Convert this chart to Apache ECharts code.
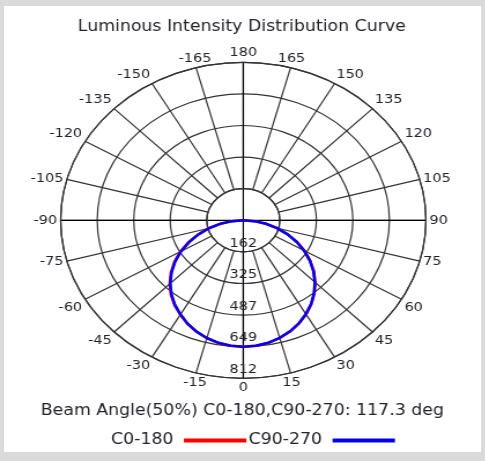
<!DOCTYPE html>
<html>
<head>
<meta charset="utf-8">
<script src="https://cdn.jsdelivr.net/npm/echarts@6/dist/echarts.min.js"></script>
<style>
html,body{margin:0;padding:0;background:#dadada;width:485px;height:461px;overflow:hidden;}
#panel{position:absolute;left:4px;top:6px;width:477px;height:446px;background:#ffffff;}
#chart{position:absolute;left:0;top:0;width:419.55px;height:461px;transform:scaleX(1.156);transform-origin:0 0;}
</style>
</head>
<body>
<div id="panel"></div>
<div id="chart"></div>
<script>
// ---- data (gamma angles in degrees, intensity in cd) ----
const gammaAngles = [-90,-85,-80,-75,-70,-65,-60,-55,-50,-45,-40,-35,-30,-25,-20,-15,-10,-5,0,5,10,15,20,25,30,35,40,45,50,55,60,65,70,75,80,85,90];
const c0_180 = [0,52,106,160,214,270,324,374,420,462,500,532,560,587,609,627,640,647,649,647,640,626,608,585,558,527,491,452,409,363,314,262,209,156,103,50,0];
const c90_270 = [0,50,104,158,212,266,320,370,416,459,497,530,558,586,608,626,639,647,649,647,639,625,607,584,556,525,489,450,407,361,312,261,208,155,102,49,0];
const radiusTickLabels = ['162','325','487','649','812'];
const angleTickLabels = ['0','15','30','45','60','75','90','105','120','135','150','165','180','-165','-150','-135','-120','-105','-90','-75','-60','-45','-30','-15',''];
const seriesNames = ['C0-180','C90-270'];
const titleText = 'Luminous Intensity Distribution Curve';
const beamText = 'Beam Angle(50%) C0-180,C90-270: 117.3 deg';
const radiusMax = 811.7;
const radiusStep = 162.34;

const S = 1.156;
const FONT = 'DejaVu Sans';
const TXT = '#222228';
const GRID = '#333';
const CX = 243.3 / S, CY = 220.3, R = 158;

function toPolar(vals){
  return vals.map((v,i)=>[v, (gammaAngles[i] + 360) % 360]);
}

const chart = echarts.init(document.getElementById('chart'), null, {renderer:'canvas'});
chart.setOption({
  backgroundColor: 'transparent',
  animation: false,
  title: [
    {text: titleText, left: 236 / S, textAlign: 'center', top: 15,
     textStyle:{fontFamily: FONT, fontSize: 15, fontWeight: 'normal', color: TXT}},
    {text: beamText, left: 236.5 / S, textAlign: 'center', top: 399,
     textStyle:{fontFamily: FONT, fontSize: 15, fontWeight: 'normal', color: TXT}}
  ],
  legend: {
    data: seriesNames, left: 91, top: 428, align: 'right', icon: 'rect',
    itemWidth: 54, itemHeight: 4, itemGap: 2,
    textStyle:{fontFamily: FONT, fontSize: 15, color: TXT, padding:[0,4,0,0]}
  },
  polar: [
    {center: [CX, CY], radius: [R/5, R]},
    {center: [CX, CY], radius: [0, R]}
  ],
  angleAxis: [
    {polarIndex: 0, type: 'value', min: 0, max: 360, interval: 15, startAngle: 270, clockwise: false,
     axisLine: {show: true, lineStyle: {color: GRID, width: 1.2}},
     axisTick: {show: false},
     splitLine: {show: true, lineStyle: {color: GRID, width: 1.2}},
     axisLabel: {show: true, margin: 3, fontFamily: FONT, fontSize: 12.5, color: TXT,
       formatter: (v) => angleTickLabels[Math.round(v / 15)]}
    },
    {polarIndex: 1, type: 'value', min: 0, max: 360, interval: 90, startAngle: 270, clockwise: false,
     axisLine: {show: false}, axisTick: {show: false}, axisLabel: {show: false},
     splitLine: {show: true, lineStyle: {color: '#000', width: 1.2}}
    }
  ],
  radiusAxis: [
    {polarIndex: 0, type: 'value', min: radiusStep, max: radiusMax, interval: radiusStep,
     axisLine: {show: false}, axisTick: {show: false},
     splitLine: {show: true, lineStyle: {color: GRID, width: 1.2}},
     axisLabel: {show: true, margin: 0, align: 'center', verticalAlign: 'bottom',
       fontFamily: FONT, fontSize: 12.5, color: TXT, padding: [0,0,2,0],
       formatter: (v) => radiusTickLabels[Math.round(v / radiusStep) - 1] || ''}
    },
    {polarIndex: 1, type: 'value', min: 0, max: radiusMax,
     axisLine: {show: false}, axisTick: {show: false}, axisLabel: {show: false}, splitLine: {show: false}}
  ],
  series: [
    {name: seriesNames[0], type: 'line', coordinateSystem: 'polar', polarIndex: 1,
     data: toPolar(c0_180), showSymbol: false, symbol: 'none',
     lineStyle: {color: '#ff0000', width: 2.5}, itemStyle: {color: '#ff0000'}, z: 3},
    {name: seriesNames[1], type: 'line', coordinateSystem: 'polar', polarIndex: 1,
     data: toPolar(c90_270), showSymbol: false, symbol: 'none',
     lineStyle: {color: '#0000ee', width: 2.5}, itemStyle: {color: '#0000ee'}, z: 4}
  ]
});
</script>
</body>
</html>
